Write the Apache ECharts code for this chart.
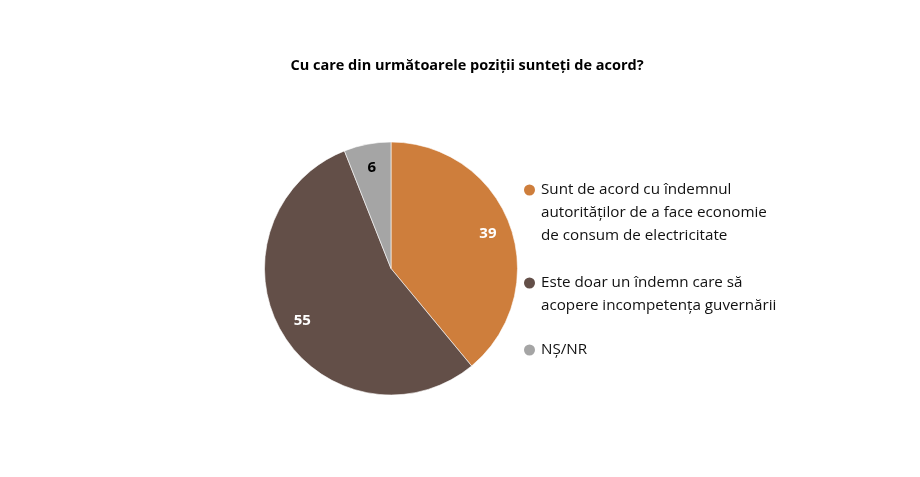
<!DOCTYPE html>
<html><head><meta charset="utf-8">
<script src="https://cdn.jsdelivr.net/npm/echarts@6/dist/echarts.min.js"></script>
<style>html,body{margin:0;padding:0;background:#fff;}#c{width:920px;height:477px;}</style>
</head><body><div id="c"></div>
<script>
const title = 'Cu care din următoarele poziții sunteți de acord?';
const categories = [
  'Sunt de acord cu îndemnul\nautorităților de a face economie\nde consum de electricitate',
  'Este doar un îndemn care să\nacopere incompetența guvernării',
  'NȘ/NR'
];
const values = [39, 55, 6];
const colors = ['#CE7E3C', '#634F48', '#A5A5A5'];
const labelColors = ['#ffffff', '#ffffff', '#000000'];

const FONT = '"Open Sans", sans-serif';
const chart = echarts.init(document.getElementById('c'));
const pieData = categories.map((n, i) => ({name: n, value: values[i], itemStyle: {color: colors[i]}}));
const labelData = categories.map((n, i) => ({name: n, value: values[i], label: {color: labelColors[i]}}));

function blankPrefix(name) {
  const k = name.split('\n').length;
  return '\n'.repeat(k - 1) + name;
}
const legendTops = [132.5, 248.5, 338.5];
const legends = categories.map((n, i) => ({
  data: [n],
  orient: 'vertical',
  left: 522,
  top: legendTops[i],
  padding: 0,
  icon: 'circle',
  itemWidth: 13,
  itemHeight: 13,
  selectedMode: false,
  formatter: blankPrefix,
  textStyle: {fontFamily: FONT, fontSize: 15.2, lineHeight: 23, color: '#111'}
}));

chart.setOption({
  animation: false,
  title: {
    text: title, left: 462, top: 53, textAlign: 'center',
    textStyle: {fontFamily: FONT, fontSize: 14.5, fontWeight: 'bold', color: '#000'}
  },
  legend: legends,
  series: [
    {
      type: 'pie', center: [391, 268.5], radius: [0, 126.5], startAngle: 90, clockwise: true,
      silent: true, label: {show: false}, labelLine: {show: false},
      itemStyle: {borderColor: '#ffffff', borderWidth: 0.6},
      data: pieData
    },
    {
      type: 'pie', center: [391, 268.5], radius: [0, 200], startAngle: 90, clockwise: true,
      silent: true, itemStyle: {color: 'rgba(0,0,0,0)'},
      label: {show: true, position: 'inside', fontFamily: FONT, fontSize: 15, fontWeight: 'bold', formatter: '{c}'},
      labelLine: {show: false},
      data: labelData
    }
  ]
});
</script></body></html>
